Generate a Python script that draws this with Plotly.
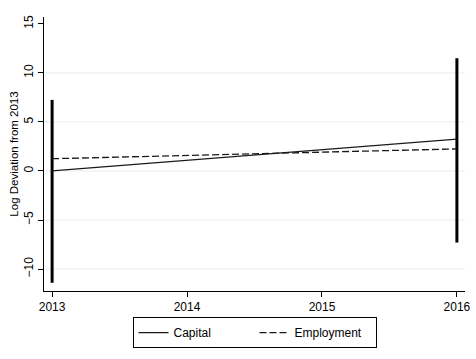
import plotly.graph_objects as go

years = [2013, 2016]
capital = [0.0, 3.25]
employment = [1.25, 2.25]
ci_years = [2013, 2016]
ci_low = [-11.4, -7.3]
ci_high = [7.25, 11.5]
y_ticks = [-10, -5, 0, 5, 10, 15]
grid_vals = [-10, -5, 0, 5, 10]
x_ticks = [2013, 2014, 2015, 2016]

fig = go.Figure()

for g in grid_vals:
    fig.add_hline(y=g, line=dict(color="#e6eff0", width=1), layer="below")

bx, by = [], []
for x, lo, hi in zip(ci_years, ci_low, ci_high):
    bx += [x, x, None]
    by += [lo, hi, None]
fig.add_trace(go.Scatter(x=bx, y=by, mode="lines", line=dict(color="black", width=3),
                         showlegend=False, hoverinfo="skip"))

fig.add_trace(go.Scatter(x=years, y=capital, mode="lines", name="Capital",
                         line=dict(color="#1a1a1a", width=1.3)))
fig.add_trace(go.Scatter(x=years, y=employment, mode="lines", name="Employment",
                         line=dict(color="#1a1a1a", width=1.3, dash="7px,3px")))

font = dict(family="Liberation Sans, Arial, sans-serif", size=12, color="black")

fig.update_layout(
    width=476, height=359,
    margin=dict(l=44, r=6, t=17, b=68),
    paper_bgcolor="white", plot_bgcolor="white",
    font=font,
    legend=dict(orientation="h", x=0.5, xanchor="center", y=-0.095, yanchor="top",
                bordercolor="black", borderwidth=1, font=font,
                entrywidth=76, entrywidthmode="pixels", tracegroupgap=0),
    xaxis=dict(range=[2012.94, 2016.06], tickvals=x_ticks, ticks="outside", ticklen=5,
               tickcolor="black", showline=True, linecolor="black", linewidth=1,
               showgrid=False, zeroline=False),
    yaxis=dict(range=[-12.24, 15.7], tickvals=y_ticks, ticks="outside", ticklen=5,
               tickcolor="black", showline=True, linecolor="black", linewidth=1,
               showgrid=False, zeroline=False,
               tickangle=-90,
               title=dict(text="Log Deviation from 2013",
                          font=dict(family="Liberation Sans, Arial, sans-serif", size=11.5, color="black"),
                          standoff=1)),
)

fig.write_html("out.html")
